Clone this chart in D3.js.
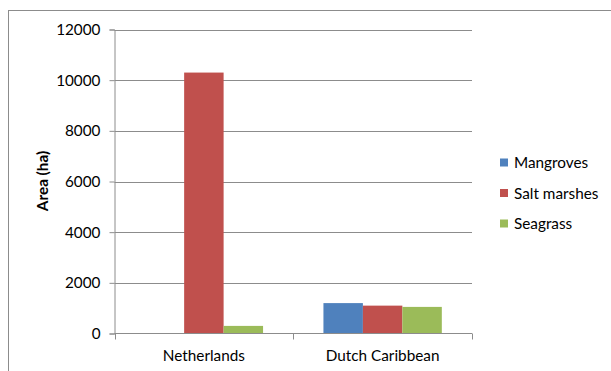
<!DOCTYPE html>
<html><head><meta charset="utf-8">
<script src="https://cdn.jsdelivr.net/npm/d3@7"></script>
<style>body{margin:0;background:#fff}svg{display:block}text{font-family:Lato,"Open Sans",sans-serif}</style>
</head><body><svg id="c" width="611" height="371"></svg>
<script>
const categories = ["Netherlands", "Dutch Caribbean"];
const seriesNames = ["Mangroves", "Salt marshes", "Seagrass"];
const mangroves = [0, 1200];
const saltMarshes = [10300, 1100];
const seagrass = [300, 1050];
const yTicks = [0, 2000, 4000, 6000, 8000, 10000, 12000];
const colors = ["#4F81BD", "#C0504D", "#9BBB59"];
const seriesValues = [mangroves, saltMarshes, seagrass];

const svg = d3.select("#c");
const m = {l: 114.5, r: 472, t: 29.5, b: 333.5};
svg.append("rect").attr("x", 8.5).attr("y", 10.5).attr("width", 640).attr("height", 400)
  .attr("fill", "none").attr("stroke", "#8c8c8c").attr("stroke-width", 1);

const y = d3.scaleLinear().domain([0, 12000]).range([m.b, m.t]);
const x0 = d3.scaleBand().domain(categories).range([m.l, m.r]).paddingInner(0).paddingOuter(0);
const x1 = d3.scaleBand().domain(seriesNames).range([0, x0.bandwidth()]).paddingInner(0).paddingOuter(0.765);

// gridlines
svg.append("g").selectAll("line").data(yTicks.filter(d => d > 0)).join("line")
  .attr("x1", m.l).attr("x2", m.r).attr("y1", d => Math.round(y(d)) + 0.5).attr("y2", d => Math.round(y(d)) + 0.5)
  .attr("stroke", "#8c8c8c");

// y axis
const ya = svg.append("g").attr("transform", `translate(${m.l},0)`)
  .call(d3.axisLeft(y).tickValues(yTicks).tickSize(5).tickPadding(9).tickFormat(d3.format("d")));
ya.select(".domain").attr("stroke", "#8c8c8c");
ya.selectAll(".tick line").attr("stroke", "#8c8c8c");
ya.selectAll(".tick text").attr("font-size", 15.3).attr("fill", "#000").attr("font-family", "Lato");

// bars
svg.append("g").selectAll("g").data(categories).join("g")
  .attr("transform", d => `translate(${x0(d)},0)`)
  .selectAll("rect").data((c, i) => seriesNames.map((s, j) => ({s, v: seriesValues[j][i], j})))
  .join("rect")
  .attr("x", d => x1(d.s)).attr("width", x1.bandwidth())
  .attr("y", d => y(d.v)).attr("height", d => y(0) - y(d.v))
  .attr("fill", d => colors[d.j]);

// x axis
const xa = svg.append("g").attr("transform", `translate(0,${m.b})`);
xa.append("line").attr("x1", m.l).attr("x2", m.r).attr("y1", 0).attr("y2", 0).attr("stroke", "#8c8c8c");
const bounds = [m.l, x0(categories[1]), m.r];
xa.selectAll(".tk").data(bounds).join("line").attr("class", "tk")
  .attr("x1", d => Math.round(d) + 0.5).attr("x2", d => Math.round(d) + 0.5).attr("y1", 0).attr("y2", 6).attr("stroke", "#8c8c8c");
xa.selectAll("text").data(categories).join("text")
  .attr("x", d => x0(d) + x0.bandwidth() / 2).attr("y", 27.5).attr("text-anchor", "middle")
  .attr("font-size", 15.3).text(d => d);

// y title
svg.append("text").attr("transform", "translate(48,181) rotate(-90)").attr("text-anchor", "middle")
  .attr("font-size", 15.3).attr("font-weight", "bold").text("Area (ha)");

// legend
const lg = svg.append("g").selectAll("g").data(seriesNames).join("g")
  .attr("transform", (d, i) => `translate(500,${162.5 + i * 30.5})`);
lg.append("rect").attr("x", 0).attr("y", -4).attr("width", 8).attr("height", 8).attr("fill", (d, i) => colors[i]);
lg.append("text").attr("x", 14).attr("y", 5.5).attr("font-size", 15.3).text(d => d);
</script></body></html>
